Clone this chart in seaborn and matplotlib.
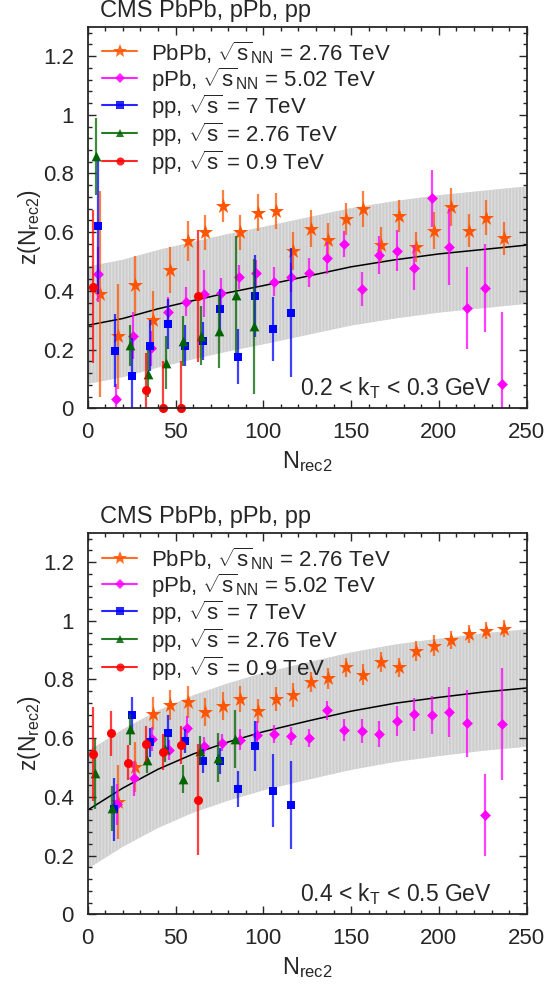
import matplotlib
matplotlib.use("Agg")
import matplotlib.pyplot as plt
from matplotlib.lines import Line2D
from matplotlib.ticker import MultipleLocator
import seaborn as sns

# --- valores: painel de cima (0.2 < kT < 0.3 GeV) ---
pbpb_n_top = [7, 17, 27, 37, 47, 57, 67, 77, 87, 97, 107, 117, 127, 137, 147, 157, 167, 177, 187, 197, 207, 217, 227, 237]
pbpb_z_top = [0.39, 0.245, 0.42, 0.30, 0.47, 0.57, 0.60, 0.69, 0.60, 0.667, 0.672, 0.537, 0.612, 0.574, 0.645, 0.679, 0.558, 0.656, 0.549, 0.605, 0.686, 0.605, 0.65, 0.579]
pbpb_e_top = [0.35, 0.18, 0.10, 0.10, 0.078, 0.068, 0.06, 0.055, 0.06, 0.063, 0.06, 0.065, 0.064, 0.057, 0.055, 0.062, 0.06, 0.055, 0.05, 0.063, 0.065, 0.057, 0.06, 0.057]

ppb_n_top = [6, 16, 26, 36, 46, 56, 66, 76, 86, 96, 106, 116, 126, 136, 146, 156, 166, 176, 186, 196, 206, 216, 226, 236]
ppb_z_top = [0.457, 0.033, 0.247, 0.205, 0.329, 0.363, 0.391, 0.394, 0.448, 0.46, 0.431, 0.446, 0.462, 0.511, 0.56, 0.407, 0.521, 0.537, 0.479, 0.716, 0.55, 0.343, 0.41, 0.084]
ppb_e_top = [0.094, 0.05, 0.08, 0.06, 0.05, 0.05, 0.08, 0.05, 0.04, 0.045, 0.05, 0.05, 0.05, 0.055, 0.045, 0.057, 0.065, 0.07, 0.077, 0.097, 0.13, 0.14, 0.15, 0.245]

pp7_n_top = [6, 15.5, 25.5, 35.5, 45.5, 55.5, 65.5, 75.5, 85.5, 95.5, 105.5, 115.5]
pp7_z_top = [0.62, 0.196, 0.11, 0.213, 0.288, 0.213, 0.23, 0.338, 0.176, 0.383, 0.27, 0.325]
pp7_e_top = [0.23, 0.125, 0.13, 0.087, 0.085, 0.07, 0.065, 0.07, 0.094, 0.14, 0.108, 0.22]

pp276_n_top = [4.5, 24, 34.5, 44.5, 54.5, 64.5, 74.5, 84.5, 94.5]
pp276_z_top = [0.858, 0.215, 0.118, 0.155, 0.229, 0.247, 0.262, 0.387, 0.279]
pp276_e_top = [0.13, 0.07, 0.08, 0.09, 0.085, 0.10, 0.125, 0.20, 0.23]

pp09_n_top = [3, 33, 43, 53, 63]
pp09_z_top = [0.414, 0.064, 0.0, 0.0, 0.383]
pp09_e_top = [0.26, 0.125, 0.16, 0.16, 0.225]

curve_n = [0, 20, 40, 60, 80, 100, 125, 150, 175, 200, 225, 250]
curve_top = [0.283, 0.306, 0.339, 0.367, 0.394, 0.418, 0.450, 0.482, 0.506, 0.526, 0.541, 0.556]
band_hi_top = [0.483, 0.506, 0.539, 0.567, 0.594, 0.618, 0.650, 0.682, 0.706, 0.726, 0.741, 0.756]
band_lo_top = [0.083, 0.106, 0.139, 0.167, 0.194, 0.218, 0.250, 0.282, 0.306, 0.326, 0.341, 0.356]

# --- painel de baixo (0.4 < kT < 0.5 GeV) ---
pbpb_n_bot = [17, 27, 37, 47, 57, 67, 77, 87, 97, 107, 117, 127, 137, 147, 157, 167, 177, 187, 197, 207, 217, 227, 237]
pbpb_z_bot = [0.383, 0.503, 0.684, 0.713, 0.724, 0.690, 0.709, 0.733, 0.693, 0.732, 0.747, 0.792, 0.804, 0.841, 0.816, 0.861, 0.841, 0.897, 0.915, 0.934, 0.954, 0.966, 0.973]
pbpb_e_bot = [0.125, 0.085, 0.057, 0.05, 0.054, 0.048, 0.048, 0.044, 0.04, 0.041, 0.04, 0.035, 0.035, 0.033, 0.036, 0.034, 0.032, 0.034, 0.036, 0.03, 0.031, 0.029, 0.029]

ppb_n_bot = [16.5, 26.5, 36.5, 46.5, 56.5, 66.5, 76.5, 86.5, 96.5, 106, 116, 126, 136, 146, 156, 166, 176, 186, 196, 206, 216, 226, 236]
ppb_z_bot = [0.375, 0.463, 0.597, 0.559, 0.636, 0.575, 0.585, 0.595, 0.612, 0.614, 0.608, 0.601, 0.695, 0.627, 0.624, 0.614, 0.658, 0.681, 0.678, 0.688, 0.65, 0.338, 0.648]
ppb_e_bot = [0.07, 0.06, 0.04, 0.035, 0.04, 0.03, 0.03, 0.035, 0.045, 0.03, 0.03, 0.03, 0.033, 0.038, 0.04, 0.043, 0.05, 0.055, 0.065, 0.085, 0.115, 0.14, 0.19]

pp7_n_bot = [15, 25.5, 35.5, 45.5, 55.5, 65.5, 75.5, 85.5, 95.5, 105.5, 115.5]
pp7_z_bot = [0.357, 0.68, 0.586, 0.619, 0.591, 0.523, 0.523, 0.427, 0.574, 0.421, 0.372]
pp7_e_bot = [0.106, 0.06, 0.05, 0.06, 0.04, 0.04, 0.045, 0.06, 0.085, 0.124, 0.15]

pp276_n_bot = [4, 14, 24, 34, 44, 54, 64, 74, 84]
pp276_z_bot = [0.48, 0.361, 0.63, 0.527, 0.563, 0.461, 0.557, 0.534, 0.597]
pp276_e_bot = [0.12, 0.077, 0.054, 0.045, 0.045, 0.048, 0.05, 0.085, 0.1]

pp09_n_bot = [3, 13, 23, 33, 43, 53, 63]
pp09_z_bot = [0.545, 0.616, 0.516, 0.58, 0.553, 0.577, 0.391]
pp09_e_bot = [0.16, 0.078, 0.06, 0.06, 0.06, 0.065, 0.19]

curve_bot = [0.355, 0.430, 0.494, 0.546, 0.587, 0.622, 0.658, 0.692, 0.719, 0.739, 0.757, 0.771]
band_hi_bot = [0.555, 0.630, 0.694, 0.746, 0.787, 0.822, 0.858, 0.892, 0.919, 0.939, 0.957, 0.971]
band_lo_bot = [0.155, 0.230, 0.294, 0.346, 0.387, 0.422, 0.458, 0.492, 0.519, 0.539, 0.557, 0.571]

# --- estilo ---
sns.set_style("ticks")
plt.rcParams["font.family"] = ["Liberation Sans", "DejaVu Sans"]
plt.rcParams["mathtext.fontset"] = "custom"
plt.rcParams["mathtext.rm"] = "Liberation Sans"
plt.rcParams["mathtext.it"] = "Liberation Sans"
plt.rcParams["mathtext.bf"] = "Liberation Sans:bold"
plt.rcParams["hatch.linewidth"] = 1.0

# rotulo, cor, marcador, tamanho
series_style = [
    (r"PbPb, $\sqrt{s}_{NN}$ = 2.76 TeV", "#ff5500", "*", 11.5),
    (r"pPb, $\sqrt{s}_{NN}$ = 5.02 TeV", "#ff00ff", "D", 5.5),
    (r"pp, $\sqrt{s}$ = 7 TeV", "#0000ff", "s", 6),
    (r"pp, $\sqrt{s}$ = 2.76 TeV", "#006400", "^", 7),
    (r"pp, $\sqrt{s}$ = 0.9 TeV", "#ff0000", "o", 6.5),
]

panels = [
    dict(
        data=[(pbpb_n_top, pbpb_z_top, pbpb_e_top), (ppb_n_top, ppb_z_top, ppb_e_top),
              (pp7_n_top, pp7_z_top, pp7_e_top), (pp276_n_top, pp276_z_top, pp276_e_top),
              (pp09_n_top, pp09_z_top, pp09_e_top)],
        curve=curve_top, hi=band_hi_top, lo=band_lo_top,
        kt=r"0.2 < $\mathrm{k_T}$ < 0.3 GeV",
        rect=[0.1592, 0.5888, 0.7967, 0.3843],
    ),
    dict(
        data=[(pbpb_n_bot, pbpb_z_bot, pbpb_e_bot), (ppb_n_bot, ppb_z_bot, ppb_e_bot),
              (pp7_n_bot, pp7_z_bot, pp7_e_bot), (pp276_n_bot, pp276_z_bot, pp276_e_bot),
              (pp09_n_bot, pp09_z_bot, pp09_e_bot)],
        curve=curve_bot, hi=band_hi_bot, lo=band_lo_bot,
        kt=r"0.4 < $\mathrm{k_T}$ < 0.5 GeV",
        rect=[0.1592, 0.0793, 0.7967, 0.3842],
    ),
]

fig = plt.figure(figsize=(5.51, 9.93), dpi=100)

for p in panels:
    ax = fig.add_axes(p["rect"])

    # banda de incerteza do ajuste
    ax.fill_between(curve_n, p["lo"], p["hi"], facecolor="#cecece", edgecolor="#dcdcdc",
                    hatch="|||||", linewidth=0, zorder=0)
    sns.lineplot(x=curve_n, y=p["curve"], color="black", linewidth=1.1, ax=ax, zorder=1)

    for k, (n, z, e) in enumerate(p["data"]):
        label, color, marker, ms = series_style[k]
        ax.errorbar(n, z, yerr=e, fmt="none", ecolor=color, elinewidth=1.6,
                    alpha=0.75, capsize=0, zorder=2 + k)
        sns.scatterplot(x=n, y=z, marker=marker, s=ms ** 2, color=color, linewidth=0,
                        ax=ax, zorder=2.5 + k, clip_on=False)

    ax.set_xlim(0, 250)
    ax.set_ylim(0, 1.3)
    ax.xaxis.set_major_locator(MultipleLocator(50))
    ax.xaxis.set_minor_locator(MultipleLocator(10))
    ax.yaxis.set_minor_locator(MultipleLocator(0.04))
    ax.set_yticks([0, 0.2, 0.4, 0.6, 0.8, 1.0, 1.2])
    ax.set_yticklabels(["0", "0.2", "0.4", "0.6", "0.8", "1", "1.2"])
    ax.tick_params(which="both", direction="in", top=True, right=True, width=1, labelsize=16)
    ax.tick_params(which="major", length=6, pad=10)
    ax.tick_params(which="minor", length=3.2)
    for sp in ax.spines.values():
        sp.set_linewidth(1.3)
        sp.set_zorder(10)

    ax.set_xlabel(r"$\mathrm{N_{rec2}}$", fontsize=17, labelpad=4)
    ax.set_ylabel(r"z($\mathrm{N_{rec2}}$)", fontsize=16.5)
    ax.yaxis.set_label_coords(-0.102, 0.475)

    ax.text(0.028, 1.012, "CMS PbPb, pPb, pp", transform=ax.transAxes,
            fontsize=17, va="bottom", ha="left")
    ax.text(0.92, 0.035, p["kt"], transform=ax.transAxes, fontsize=16.5,
            va="baseline", ha="right", zorder=12)

    handles = [Line2D([], [], color=c, marker=m, markersize=ms * 0.9, linewidth=1.5,
                      markeredgewidth=0, alpha=0.85)
               for (_, c, m, ms) in series_style]
    leg = ax.legend(handles, [s[0] for s in series_style], loc="upper left",
                    bbox_to_anchor=(0.032, 0.968), frameon=False, fontsize=16,
                    handlelength=1.6, handletextpad=0.63, labelspacing=-0.03,
                    handleheight=1.0, borderpad=0, borderaxespad=0)
    leg.set_zorder(11)

fig.savefig("out.png", dpi=100)
